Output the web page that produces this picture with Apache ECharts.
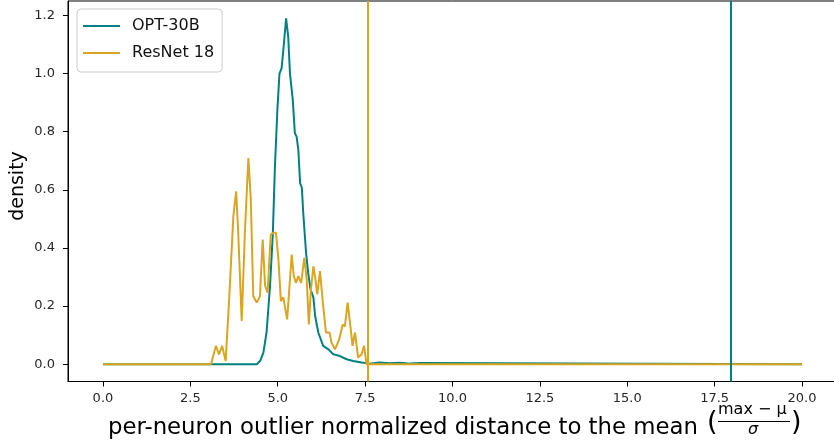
<!DOCTYPE html>
<html>
<head>
<meta charset="utf-8">
<script src="https://cdn.jsdelivr.net/npm/echarts@6/dist/echarts.min.js"></script>
<style>
    html, body { margin: 0; padding: 0; background: #fff; }
    #chart { width: 834px; height: 443px; }
</style>
</head>
<body>
<div id="chart"></div>
<script>
// OPT-30B density curve
var opt_x = [0, 4.40, 4.50, 4.59, 4.68, 4.78, 4.86, 4.92, 4.99, 5.05, 5.11, 5.16, 5.24, 5.30, 5.35, 5.43, 5.49, 5.54, 5.59, 5.64, 5.69, 5.73, 5.81, 5.87, 5.94, 6.02, 6.07, 6.16, 6.30, 6.45, 6.59, 6.78, 6.97, 7.16, 7.40, 7.63, 7.90, 8.20, 8.50, 8.80, 9.10, 20];
var opt_y = [0, 0, 0.012, 0.04, 0.109, 0.27, 0.45, 0.68, 0.875, 1.0, 1.018, 1.08, 1.19, 1.126, 1.0, 0.91, 0.795, 0.783, 0.737, 0.623, 0.607, 0.52, 0.384, 0.315, 0.257, 0.23, 0.166, 0.109, 0.063, 0.051, 0.034, 0.028, 0.017, 0.011, 0.006, 0.002, 0.006, 0.003, 0.005, 0.002, 0.004, 0];
// ResNet 18 density curve
var resnet_x = [0, 3.09, 3.14, 3.23, 3.32, 3.41, 3.51, 3.61, 3.73, 3.81, 3.87, 3.97, 4.06, 4.16, 4.23, 4.30, 4.40, 4.49, 4.57, 4.64, 4.71, 4.80, 4.87, 4.95, 5.02, 5.09, 5.16, 5.21, 5.27, 5.40, 5.46, 5.52, 5.59, 5.67, 5.76, 5.83, 5.89, 5.95, 6.02, 6.08, 6.13, 6.21, 6.29, 6.38, 6.48, 6.54, 6.64, 6.76, 6.86, 6.92, 7.00, 7.09, 7.14, 7.21, 7.30, 7.40, 7.47, 7.54, 20];
var resnet_y = [0, 0, 0.005, 0.063, 0.034, 0.063, 0.011, 0.223, 0.509, 0.595, 0.452, 0.149, 0.452, 0.709, 0.566, 0.234, 0.212, 0.234, 0.429, 0.269, 0.246, 0.446, 0.452, 0.452, 0.36, 0.217, 0.23, 0.195, 0.154, 0.377, 0.303, 0.28, 0.303, 0.28, 0.366, 0.291, 0.137, 0.257, 0.337, 0.291, 0.24, 0.32, 0.212, 0.109, 0.109, 0.074, 0.051, 0.086, 0.137, 0.13, 0.212, 0.12, 0.063, 0.109, 0.023, 0.034, 0.063, 0, 0];
// max of each distribution (vertical lines)
var opt_max = 17.95;
var resnet_max = 7.58;

var x_ticks = [0, 2.5, 5, 7.5, 10, 12.5, 15, 17.5, 20];
var y_ticks = [0, 0.2, 0.4, 0.6, 0.8, 1.0, 1.2];

var series_names = ["OPT-30B", "ResNet 18"];
var colors = ["#008080", "#DAA520"];

function pairs(xs, ys){
    var out = [];
    for(var i = 0; i < xs.length; i++){
        out.push([xs[i], ys[i]]);
    }
    return out;
}

var chart = echarts.init(document.getElementById("chart"));
var tickLabel = { fontFamily: "DejaVu Sans", fontSize: 13, color: "#262626" };

var option = {
    animation: false,
    color: colors,
    grid: {
        left: 68, top: 1, width: 769, height: 380.5,
        outerBoundsMode: "none",
        show: true, borderColor: "#000", borderWidth: 1
    },
    legend: {
        orient: "vertical",
        left: 77, top: 9,
        padding: [9, 8, 11, 6],
        icon: "rect",
        itemWidth: 37, itemHeight: 2, itemGap: 11,
        backgroundColor: "rgba(255,255,255,0.8)",
        borderColor: "#cccccc", borderWidth: 1, borderRadius: 4,
        textStyle: { fontFamily: "DejaVu Sans", fontSize: 16, lineHeight: 14, color: "#111", padding: [0, 0, 0, 7] },
        data: series_names
    },
    xAxis: {
        type: "value",
        min: -1, max: 21,
        axisLine: { onZero: false, lineStyle: { color: "#000", width: 1 } },
        axisTick: { show: true, length: 5, lineStyle: { color: "#000" }, customValues: x_ticks },
        axisLabel: { ...tickLabel, margin: 11, customValues: x_ticks, formatter: function(v){ return v.toFixed(1); } },
        splitLine: { show: false }
    },
    yAxis: {
        type: "value",
        min: -0.0595, max: 1.2495,
        axisLine: { show: true, onZero: false, lineStyle: { color: "#000", width: 1 } },
        axisTick: { show: true, length: 5, lineStyle: { color: "#000" }, customValues: y_ticks },
        axisLabel: { ...tickLabel, margin: 13, customValues: y_ticks, formatter: function(v){ return v.toFixed(1); } },
        splitLine: { show: false }
    },
    graphic: [
        { type: "text", x: 18, y: 186, rotation: Math.PI / 2, style: { text: "density", fontFamily: "DejaVu Sans", fontSize: 19, fill: "#000", align: "center", verticalAlign: "middle" } },
        { type: "text", left: 108, top: 417, style: { text: "per-neuron outlier normalized distance to the mean", fontFamily: "DejaVu Sans", fontSize: 22.8, fill: "#000" } },
        { type: "text", left: 707, top: 409, style: { text: "(", fontFamily: "DejaVu Sans", fontSize: 27, fill: "#000" } },
        { type: "text", left: 718, top: 402, style: { text: "max − μ", fontFamily: "DejaVu Sans", fontSize: 16, fill: "#000" } },
        { type: "line", shape: { x1: 718, y1: 421.5, x2: 790, y2: 421.5 }, style: { stroke: "#000", lineWidth: 1 } },
        { type: "text", left: 748, top: 422, style: { text: "σ", fontFamily: "DejaVu Sans", fontSize: 16, fontStyle: "italic", fill: "#000" } },
        { type: "text", left: 791, top: 409, style: { text: ")", fontFamily: "DejaVu Sans", fontSize: 27, fill: "#000" } }
    ],
    series: [
        {
            name: series_names[0],
            type: "line",
            symbol: "none",
            lineStyle: { width: 2, color: colors[0] },
            data: pairs(opt_x, opt_y),
            markLine: {
                silent: true,
                symbol: ["none", "none"],
                label: { show: false },
                lineStyle: { type: "solid", width: 2, color: colors[0] },
                data: [{ xAxis: opt_max }]
            },
            z: 2
        },
        {
            name: series_names[1],
            type: "line",
            symbol: "none",
            lineStyle: { width: 2, color: colors[1] },
            data: pairs(resnet_x, resnet_y),
            markLine: {
                silent: true,
                symbol: ["none", "none"],
                label: { show: false },
                lineStyle: { type: "solid", width: 2, color: colors[1] },
                data: [{ xAxis: resnet_max }]
            },
            z: 3
        }
    ]
};
chart.setOption(option, true);
</script>
</body>
</html>
